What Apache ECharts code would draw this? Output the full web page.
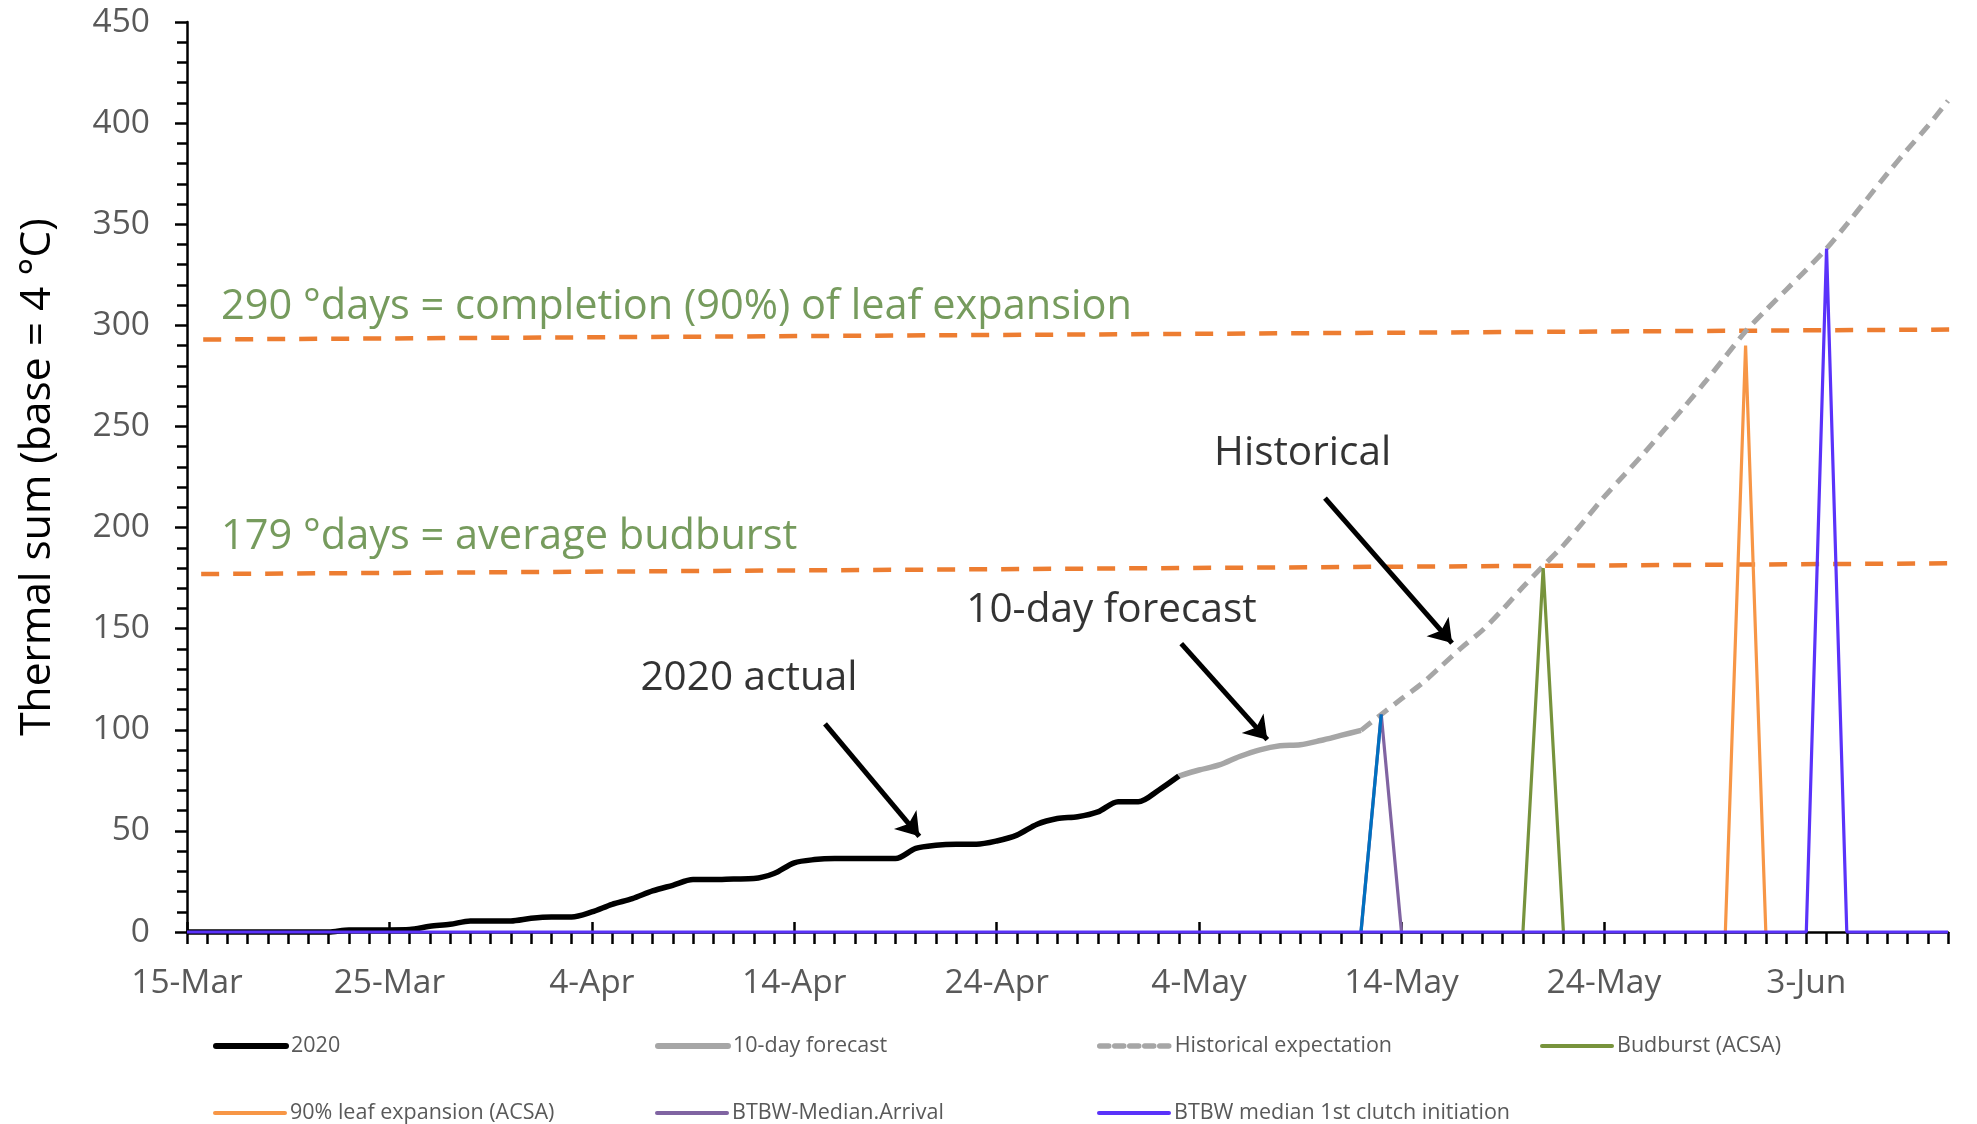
<!DOCTYPE html>
<html>
<head>
<meta charset="utf-8">
<script src="https://cdn.jsdelivr.net/npm/echarts@6/dist/echarts.min.js"></script>
<style>
html,body{margin:0;padding:0;background:#fff;}
#main{width:1977px;height:1124px;}
</style>
</head>
<body>
<div id="main"></div>
<script>
// x = days since 15-Mar (0..87 -> 10-Jun)
var tickLabels = ['15-Mar','25-Mar','4-Apr','14-Apr','24-Apr','4-May','14-May','24-May','3-Jun'];
var majorDays = [0,10,20,30,40,50,60,70,80];
var lastDay = 87;

// 2020 actual, days 0..49
var actual2020 = [0,0,0,0,0,0,0,0,1,1,
    1,1.2,2.8,3.8,5.5,5.5,5.5,6.8,7.4,7.4,
    9.9,13.7,16.5,20.3,23.1,25.9,25.9,26.2,26.4,28.9,
    34.2,35.8,36.3,36.3,36.3,36.3,41.3,42.9,43.4,43.4,
    45,47.9,53.3,56.1,57,59.4,64.4,64.4,70.1,77.1];
// 10-day forecast, days 49..58
var forecastStart = 49;
var forecast10 = [77.1,80.1,82.6,86.8,90.1,92.1,92.6,94.7,97.2,99.7];
// historical expectation, days 58..87
var historicalStart = 58;
var historical = [99.7,107.6,115.3,122.8,131.8,140.9,149.2,159.5,170.6,181,
    191.2,203,215,226,237,248.5,260,272,284.5,297,
    307.5,317.5,327.5,338,350,362.5,375,387,398.5,411];

// event spikes
var arrivalDays = [58,59,60],   arrivalVals = [0,107.6,0];
var budburstDays = [66,67,68],  budburstVals = [0,180,0];
var leafDays = [76,77,78],      leafVals = [0,290,0];
var clutchDays = [0,80,81,82,87], clutchVals = [0,0,338,0,0];

// threshold guide lines (drawn slightly slanted in the original)
var leafLineX = [0.8,88.45], leafLineY = [293,298];
var budLineX = [0.7,88.45],  budLineY = [177,182.4];

// text notes and arrows
var noteText = ['290 °days = completion (90%) of leaf expansion','179 °days = average budburst','2020 actual','10-day forecast','Historical'];
var noteX = [1.68,1.68,22.4,38.5,50.74];
var noteY = [309,195,125.2,158.8,236.5];
var arrowFrom = [[31.52,102.9],[49.12,142.6],[56.22,214.6]];
var arrowTo = [[36.18,47.3],[53.37,95.1],[62.5,142.9]];

function byDay(start, vals){ return vals.map(function(v,i){ return [start+i, v]; }); }
function pairs(xs, ys){ return xs.map(function(x,i){ return [x, ys[i]]; }); }

var FONT = 'Open Sans';
var chart = echarts.init(document.getElementById('main'));

var legendItems = [
    {name:'2020', left:213, top:1035, w:6},
    {name:'10-day forecast', left:655, top:1035, w:6},
    {name:'Historical expectation', left:1097, top:1035, w:5.5, dash:[9,6]},
    {name:'Budburst (ACSA)', left:1540, top:1035, w:4},
    {name:'90% leaf expansion (ACSA)', left:213, top:1102, w:4},
    {name:'BTBW-Median.Arrival', left:655, top:1102, w:4},
    {name:'BTBW median 1st clutch initiation', left:1097, top:1102, w:4}
];

function spike(name, xs, ys, color){
    return {name:name, type:'line', data:pairs(xs, ys), symbol:'none', clip:false,
        lineStyle:{color:color, width:3.2}, itemStyle:{color:color}};
}

var option = {
    animation:false,
    backgroundColor:'#fff',
    grid:{left:187, right:29, top:22, bottom:192, outerBoundsMode:'none'},
    legend: legendItems.map(function(it){
        return {data:[it.name], left:it.left, top:it.top, padding:0, itemWidth:70, itemHeight:14,
            selectedMode:false, textStyle:{fontSize:21.5, color:'#595959', fontFamily:FONT},
            itemStyle:{opacity:0, borderWidth:0},
            lineStyle:{width:it.w, cap:'round', type: it.dash || 'solid'}};
    }),
    xAxis:[{
        type:'value', min:0, max:lastDay, interval:1, position:'bottom',
        axisLine:{show:true, onZero:false, lineStyle:{color:'#000', width:2.5}},
        axisTick:{show:true, length:12, lineStyle:{color:'#000', width:2.5}},
        axisLabel:{margin:34, color:'#595959', fontSize:33.5, fontFamily:FONT,
            formatter:function(v){ v = Math.round(v); return v % 10 === 0 && tickLabels[v/10] ? tickLabels[v/10] : ''; }},
        splitLine:{show:false}
    },{
        type:'value', min:0, max:lastDay, interval:10, position:'bottom',
        axisLine:{show:false, onZero:false},
        axisTick:{show:true, inside:true, length:10, customValues:majorDays, lineStyle:{color:'#000', width:2.5}},
        axisLabel:{show:false},
        splitLine:{show:false}
    }],
    yAxis:{
        type:'value', min:0, max:450, interval:50,
        name:'Thermal sum (base = 4 °C)', nameLocation:'middle', nameGap:128,
        nameTextStyle:{fontSize:42.5, color:'#000', fontFamily:FONT},
        axisLine:{show:true, lineStyle:{color:'#000', width:2.5}},
        axisTick:{show:true, length:12, lineStyle:{color:'#000', width:2.5}},
        minorTick:{show:true, splitNumber:5, length:10, lineStyle:{color:'#000', width:2.5}},
        axisLabel:{margin:37, color:'#595959', fontSize:33.5, fontFamily:FONT},
        splitLine:{show:false}
    },
    series:[
        {name:'leafLine', type:'line', data:pairs(leafLineX, leafLineY), symbol:'none', clip:false,
            lineStyle:{color:'#ED7D31', width:4.5, type:[18,14]}},
        {name:'budLine', type:'line', data:pairs(budLineX, budLineY), symbol:'none', clip:false,
            lineStyle:{color:'#ED7D31', width:4.5, type:[18,14]}},
        {name:'Historical expectation', type:'line', data:byDay(historicalStart, historical), symbol:'none', smooth:0.3,
            lineStyle:{color:'#A6A6A6', width:5, type:[13,8]}, itemStyle:{color:'#A6A6A6'}},
        {name:'10-day forecast', type:'line', data:byDay(forecastStart, forecast10), symbol:'none', smooth:0.3,
            lineStyle:{color:'#A6A6A6', width:5.5}, itemStyle:{color:'#A6A6A6'}},
        {name:'2020', type:'line', data:byDay(0, actual2020), symbol:'none', smooth:0.3, clip:false,
            lineStyle:{color:'#000', width:5.5}, itemStyle:{color:'#000'}},
        spike('Budburst (ACSA)', budburstDays, budburstVals, '#77933C'),
        spike('90% leaf expansion (ACSA)', leafDays, leafVals, '#F79646'),
        spike('BTBW-Median.Arrival', arrivalDays, arrivalVals, '#8064A2'),
        spike('arrivalRise', arrivalDays.slice(0,2), arrivalVals.slice(0,2), '#0070C0'),
        spike('BTBW median 1st clutch initiation', clutchDays, clutchVals, '#5A32FA'),
        {name:'notes', type:'scatter', symbolSize:0, silent:true, z:10,
            data:noteText.map(function(t,i){
                var green = i < 2;
                return {name:t, value:[noteX[i], noteY[i]],
                    label:{color: green ? '#548235' : '#000', fontSize: green ? 41.5 : 40.5}};
            }),
            label:{show:true, position:'right', distance:0, formatter:'{b}', fontFamily:FONT}},
        {name:'arrows', type:'lines', coordinateSystem:'cartesian2d', silent:true, z:10,
            symbol:['none','arrow'], symbolSize:22,
            lineStyle:{color:'#000', width:5, opacity:1, curveness:0},
            data:arrowFrom.map(function(p,i){ return {coords:[p, arrowTo[i]]}; })}
    ]
};
chart.setOption(option);
</script>
</body>
</html>
